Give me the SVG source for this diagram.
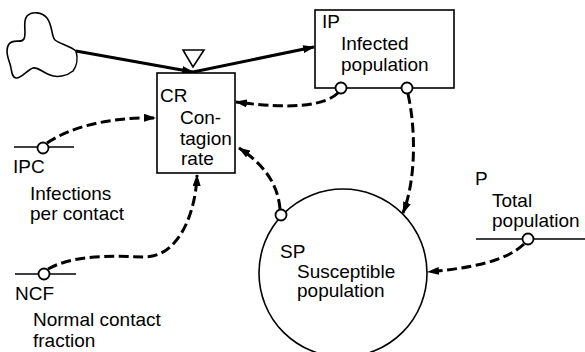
<svg xmlns="http://www.w3.org/2000/svg" width="585" height="352" viewBox="0 0 585 352">
  <style>
    text { font-family: "Liberation Sans", Arial, sans-serif; font-size: 19px; fill: #000; }
    .box { fill: #fff; stroke: #000; stroke-width: 1.6; }
    .level { fill: none; stroke: #000; stroke-width: 1.6; }
    .flow { fill: none; stroke: #000; stroke-width: 3; }
    .info { fill: none; stroke: #000; stroke-width: 3; stroke-dasharray: 10 4.5; }
    .tap { fill: #fff; stroke: #000; stroke-width: 1.8; }
    .rule { stroke: #000; stroke-width: 1.4; }
  </style>
  <defs>
    <marker id="arrow" viewBox="0 0 12 8" refX="11" refY="4" markerWidth="12" markerHeight="8" markerUnits="userSpaceOnUse" orient="auto">
      <path d="M0,0 L12,4 L0,8 z" fill="#000"/>
    </marker>
  </defs>

  <!-- source cloud -->
  <g id="source">
    <path class="level" d="M76,51 C70,46 60,44 55,40 C51,36 53,26 47,18 C42,12 32,11 27,16 C22,22 27,32 24,39 C21,44 14,38 9,44 C5,50 8,58 10,64 C12,70 11,77 16,78 C21,79 27,70 33,68 C38,67 42,72 50,75 C57,78 67,76 73,71 C77,66 78,58 76,51 Z"/>
  </g>

  <!-- material flow connectors -->
  <g id="flows">
    <path class="flow" d="M76,51 L193,72" marker-end="url(#arrow)"/>
    <path class="flow" d="M193,72 L314,47" marker-end="url(#arrow)"/>
  </g>

  <!-- information links -->
  <g id="links">
    <path class="info" d="M47,143 C72,126 112,117 155,118" marker-end="url(#arrow)"/>
    <path class="info" d="M48,269 C75,254 115,256 143,257 C180,258 196,210 197,175" marker-end="url(#arrow)"/>
    <path class="info" d="M338,93 C325,105 295,110 236,102" marker-end="url(#arrow)"/>
    <path class="info" d="M408,94 C416,130 416,180 403,213" marker-end="url(#arrow)"/>
    <path class="info" d="M280,209 C278,185 265,165 239,148" marker-end="url(#arrow)"/>
    <path class="info" d="M524,244 C505,262 470,268 428,272" marker-end="url(#arrow)"/>
  </g>

  <!-- contagion rate (flow with valve) -->
  <g id="CR">
    <rect class="box" x="157" y="73" width="78" height="100"/>
    <path class="box" d="M183,50 L204,50 L193,67 Z"/>
    <text x="160" y="102">CR</text>
    <text x="180" y="124">Con-</text>
    <text x="180" y="145">tagion</text>
    <text x="181" y="165">rate</text>
  </g>

  <!-- infected population (level) -->
  <g id="IP">
    <rect class="box" x="315" y="10" width="139" height="78"/>
    <text x="322" y="28">IP</text>
    <text x="341" y="50">Infected</text>
    <text x="341" y="71">population</text>
    <circle class="tap" cx="341" cy="88" r="5.5"/>
    <circle class="tap" cx="407" cy="88" r="5.5"/>
  </g>

  <!-- susceptible population -->
  <g id="SP">
    <circle class="level" cx="343" cy="273" r="84"/>
    <text x="280" y="258">SP</text>
    <text x="297" y="278">Susceptible</text>
    <text x="297" y="297">population</text>
    <circle class="tap" cx="281" cy="215" r="5.5"/>
  </g>

  <!-- constants -->
  <g id="IPC">
    <line class="rule" x1="14" y1="147" x2="74" y2="147"/>
    <circle class="tap" cx="43" cy="148" r="5.5"/>
    <text x="13" y="173">IPC</text>
    <text x="30" y="200">Infections</text>
    <text x="30" y="220">per contact</text>
  </g>

  <g id="NCF">
    <line class="rule" x1="15" y1="274" x2="76" y2="274"/>
    <circle class="tap" cx="44" cy="274" r="5.5"/>
    <text x="15" y="300">NCF</text>
    <text x="33" y="326">Normal contact</text>
    <text x="33" y="347">fraction</text>
  </g>

  <g id="P">
    <line class="rule" x1="476" y1="239" x2="585" y2="239"/>
    <circle class="tap" cx="528" cy="239" r="5.5"/>
    <text x="475" y="185">P</text>
    <text x="492" y="207">Total</text>
    <text x="492" y="227">population</text>
  </g>
</svg>
